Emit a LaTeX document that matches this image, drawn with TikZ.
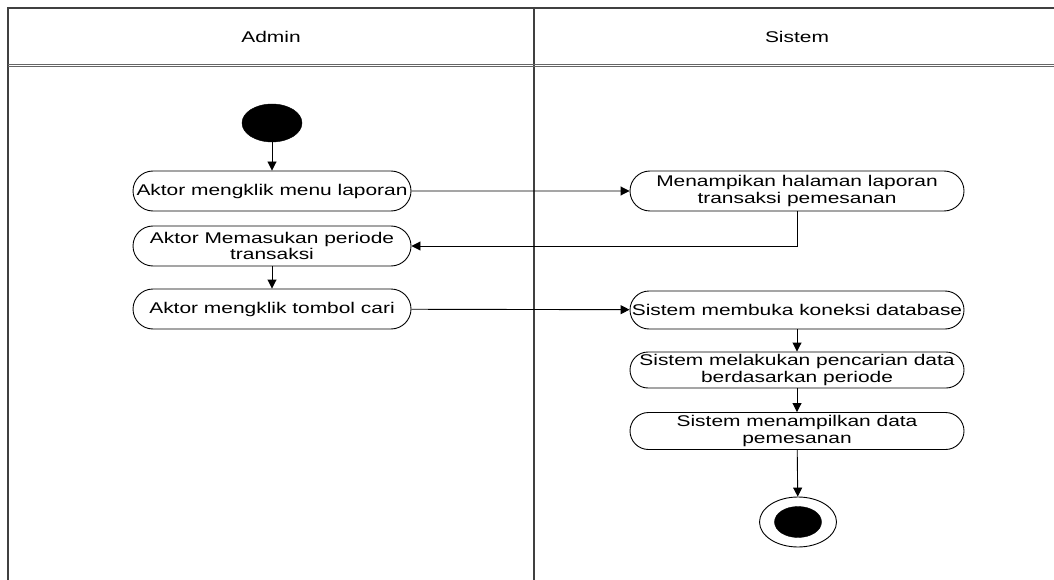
\documentclass[tikz,border=0pt]{standalone}
\usepackage{fontspec}
\setmainfont{Liberation Sans}[FakeStretch=1.35]
\usetikzlibrary{shapes.misc,shapes.geometric,arrows.meta}
\newcommand\zl[1]{\makebox[0pt]{#1}}
\begin{document}
\begin{tikzpicture}[x=1pt,y=-1pt,
  act/.style={draw=black,line width=0.9pt,rounded rectangle,minimum height=40pt,inner sep=1pt,align=center,
    font=\fontsize{15.5}{16.7}\selectfont},
  actl/.style={act,minimum width=280pt},
  actr/.style={act,minimum width=336pt},
  flow/.style={line width=0.9pt,-{Triangle[length=9pt,width=9pt]}},
  lane/.style={line width=1.4pt,draw=black!75},
  hdr/.style={font=\fontsize{15.5}{16.7}\selectfont}]
\useasboundingbox (0,0) rectangle (1054,580);
% swimlane frame
\draw[lane] (8,580) -- (8,8) -- (1054,8);
\draw[lane] (534,8) -- (534,580);
\draw[line width=0.9pt,draw=black!60] (8,64) -- (1054,64);
\draw[line width=0.9pt,draw=black!60] (8,66.5) -- (1054,66.5);
\node[hdr] (hadmin) at (271,37) {Admin};
\node[hdr] (hsistem) at (797,37) {Sistem};
% nodes
\node[ellipse,fill=black,draw=black,minimum width=60pt,minimum height=38pt,inner sep=0pt] (start) at (272,123) {};
\node[actl] (a1) at (272,191) {\zl{Aktor mengklik menu laporan}};
\node[actl] (a2) at (272,246) {\zl{Aktor Memasukan periode}\\\zl{transaksi}};
\node[actl] (a3) at (272,309) {\zl{Aktor mengklik tombol cari}};
\node[actr] (s1) at (797,191) {\zl{Menampikan halaman laporan}\\\zl{transaksi pemesanan}};
\node[actr,minimum height=38pt] (s2) at (797,310) {\zl{Sistem membuka koneksi database}};
\node[actr,minimum height=36pt] (s3) at (797,370) {\zl{Sistem melakukan pencarian data}\\\zl{berdasarkan periode}};
\node[actr,minimum height=37pt] (s4) at (797,431) {\zl{Sistem menampilkan data}\\\zl{pemesanan}};
\node[ellipse,draw=black,line width=0.9pt,minimum width=77pt,minimum height=50pt,inner sep=0pt] (endo) at (798,522) {};
\node[ellipse,fill=black,draw=black,minimum width=47pt,minimum height=31pt,inner sep=0pt] (endi) at (798,522) {};
\coordinate (bend) at (797,246);
% connectors
\draw[flow] (start) -- (a1);
\draw[flow] (a1) -- (s1);
\draw[flow] (s1.south) -- (bend) -- (a2.east);
\draw[flow] (a2) -- (a3);
\draw[flow] (a3) -- (s2);
\draw[flow] (s2) -- (s3);
\draw[flow] (s3) -- (s4);
\draw[flow] (s4) -- (endo);
\end{tikzpicture}
\end{document}
